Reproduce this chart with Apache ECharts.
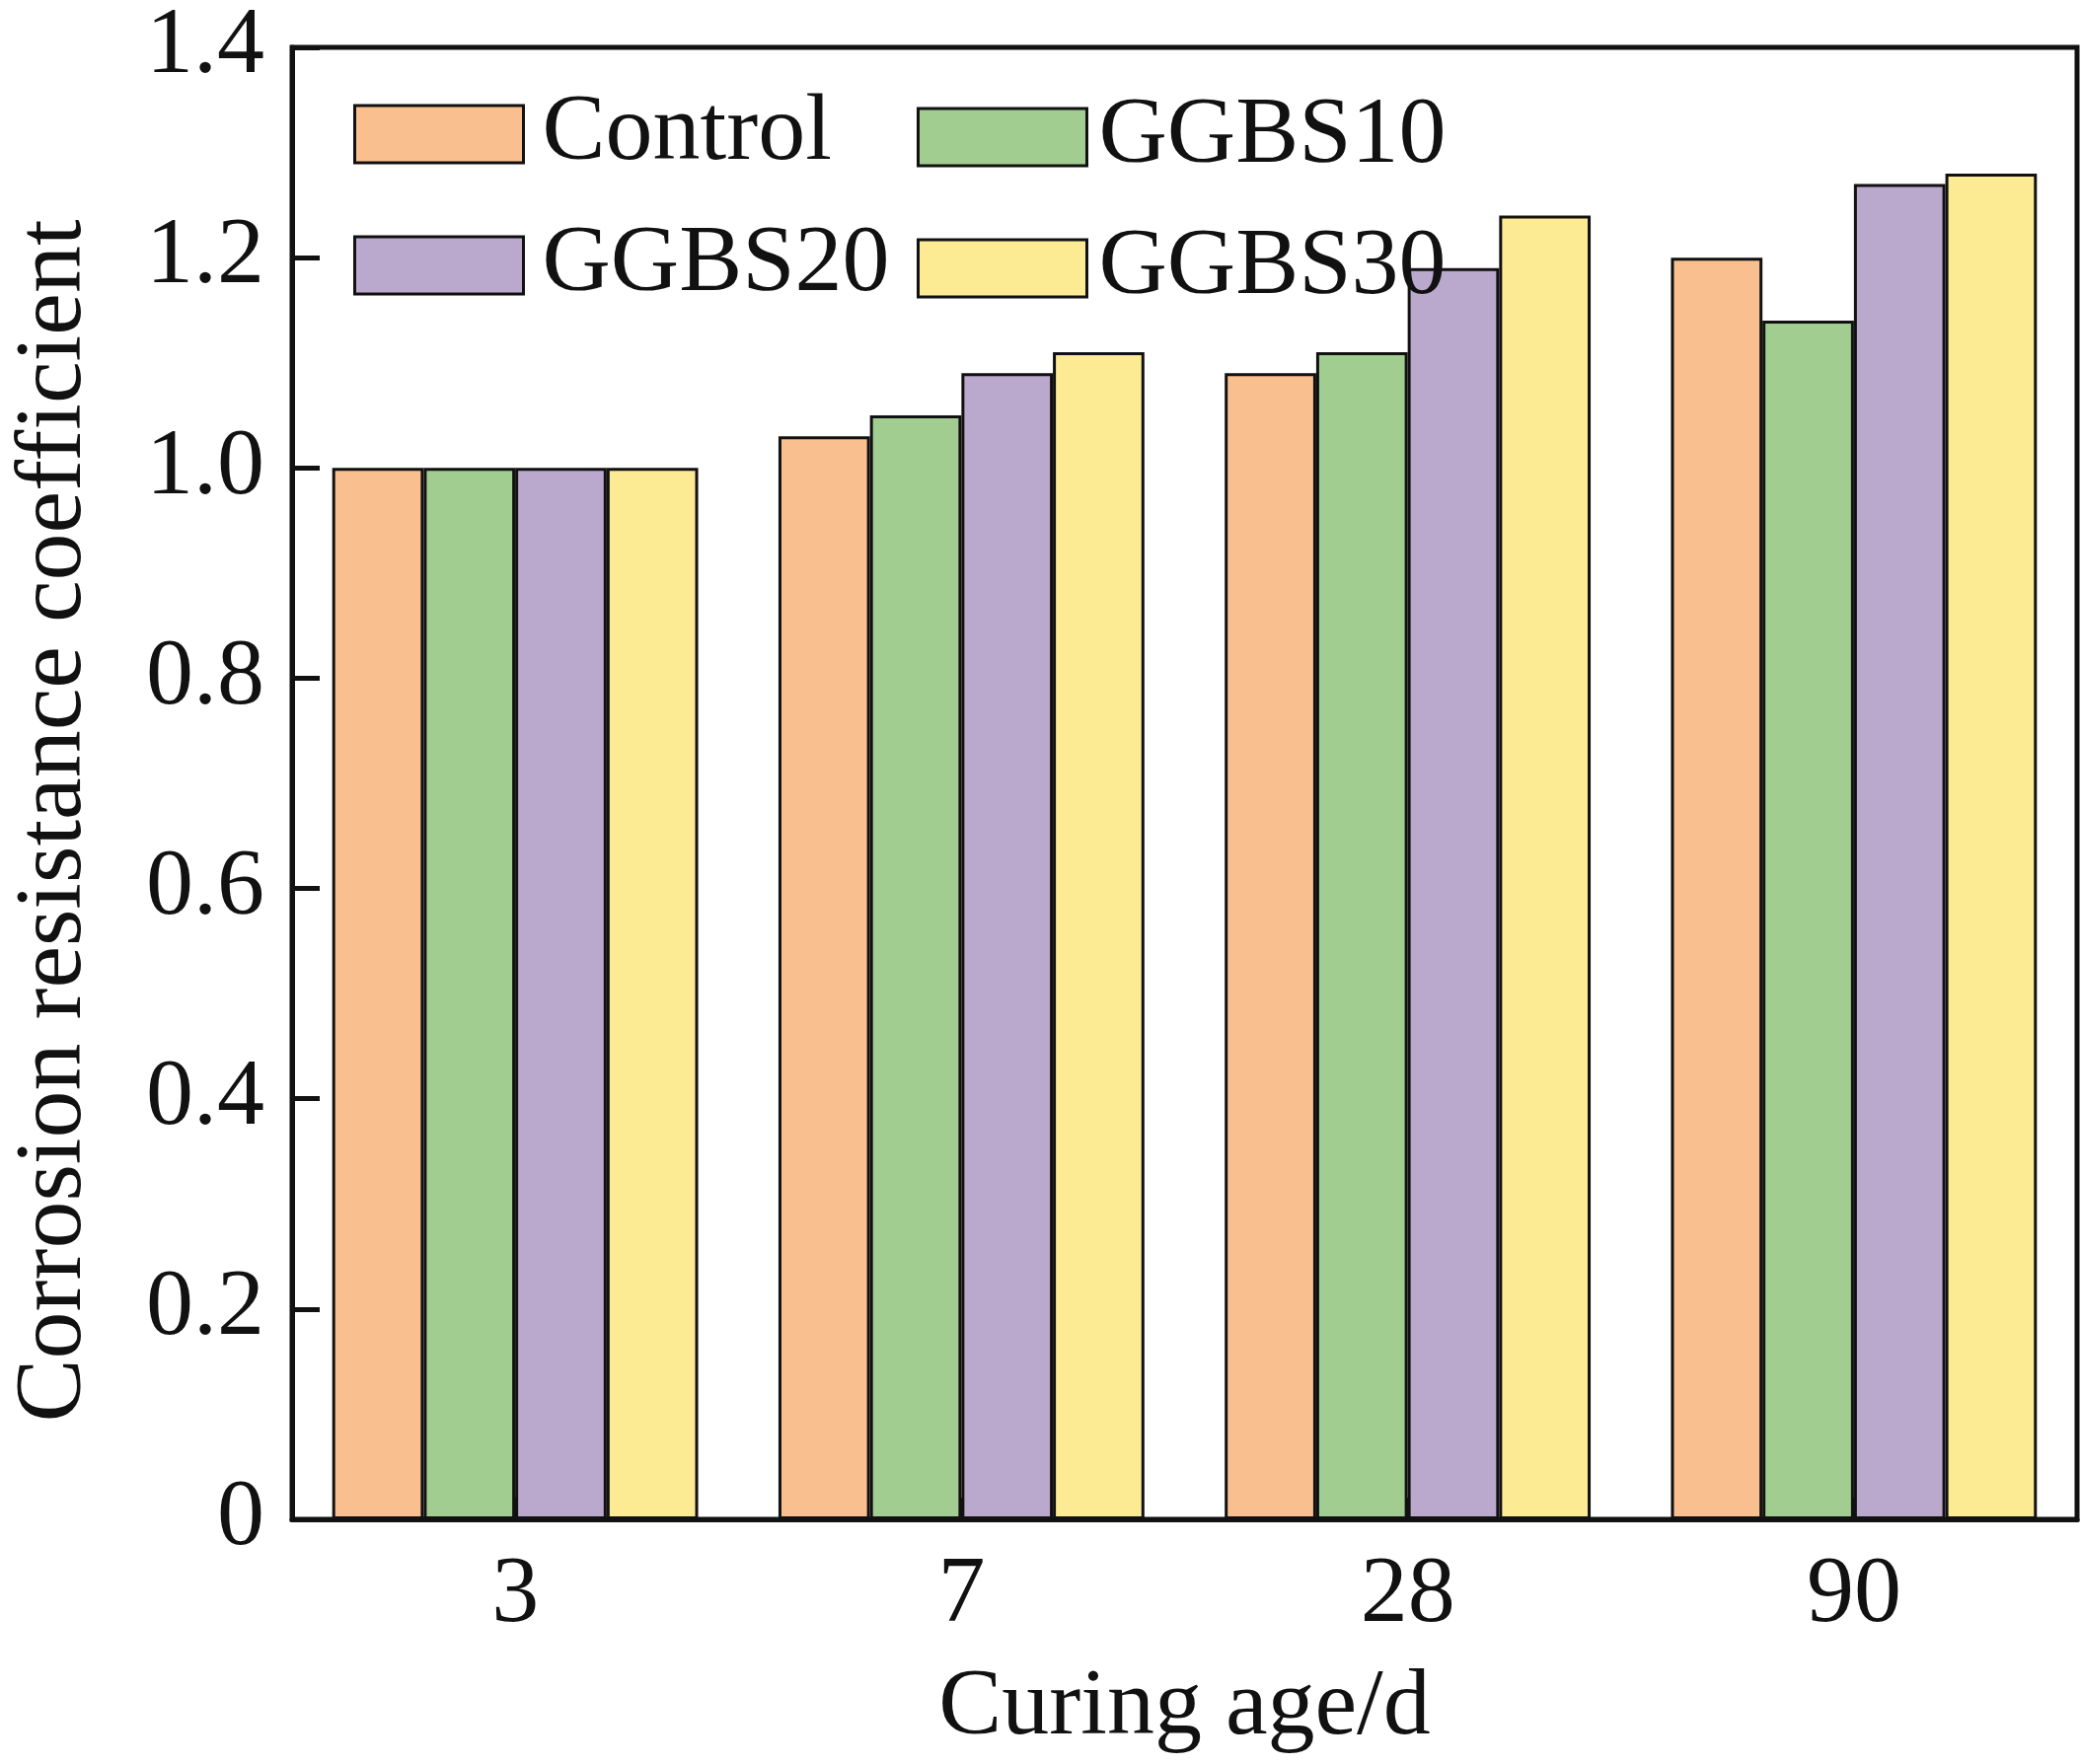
<!DOCTYPE html>
<html>
<head>
<meta charset="utf-8">
<script src="https://cdn.jsdelivr.net/npm/echarts@6/dist/echarts.min.js"></script>
<style>
html,body{margin:0;padding:0;background:#fff;}
#chart{width:2109px;height:1788px;}
</style>
</head>
<body>
<div id="chart"></div>
<script>
const categories = ['3', '7', '28', '90'];
const seriesNames = ['Control', 'GGBS10', 'GGBS20', 'GGBS30'];
const controlValues = [1.00, 1.03, 1.09, 1.20];
const ggbs10Values = [1.00, 1.05, 1.11, 1.14];
const ggbs20Values = [1.00, 1.09, 1.19, 1.27];
const ggbs30Values = [1.00, 1.11, 1.24, 1.28];
const colors = ['#F9BF8F', '#A2CD91', '#BBA8CD', '#FDEB94'];

const FONT = "'Liberation Serif', 'Times New Roman', serif";
const allValues = [controlValues, ggbs10Values, ggbs20Values, ggbs30Values];

const chart = echarts.init(document.getElementById('chart'));
const series = seriesNames.map((name, i) => ({
  name: name,
  type: 'bar',
  data: allValues[i],
  barGap: '0%',
  barCategoryGap: '18%',
  itemStyle: { color: colors[i], borderColor: '#111', borderWidth: 3 },
  emphasis: { disabled: true }
}));

const legendCommon = {
  orient: 'vertical',
  itemWidth: 171,
  itemHeight: 58,
  itemGap: 37,
  textStyle: { fontFamily: FONT, fontSize: 96, color: '#111' },
  itemStyle: { borderColor: '#111', borderWidth: 3 },
  icon: 'rect',
  selectedMode: false
};

chart.setOption({
  animation: false,
  backgroundColor: '#fff',
  grid: {
    left: 267, right: 4, top: 27, bottom: 248,
    show: true, borderColor: '#111', borderWidth: 5, backgroundColor: 'transparent'
  },
  legend: [
    Object.assign({}, legendCommon, {
      left: 353, top: 83, data: ['Control', 'GGBS20'],
      textStyle: Object.assign({}, legendCommon.textStyle, { padding: [0, 0, 0, 14] })
    }),
    Object.assign({}, legendCommon, {
      left: 924, top: 86, data: ['GGBS10', 'GGBS30'],
      textStyle: Object.assign({}, legendCommon.textStyle, { padding: [0, 0, 0, 7] })
    })
  ],
  xAxis: {
    type: 'category',
    data: categories,
    name: 'Curing age/d',
    nameLocation: 'middle',
    nameGap: 144,
    nameTextStyle: { fontFamily: FONT, fontSize: 96, color: '#111' },
    axisLine: { lineStyle: { color: '#111', width: 5 } },
    axisTick: { show: true, inside: true, alignWithLabel: true, length: 22, lineStyle: { color: '#111', width: 4 } },
    axisLabel: { fontFamily: FONT, fontSize: 96, color: '#111', margin: 30 }
  },
  yAxis: {
    type: 'value',
    min: 0, max: 1.4, interval: 0.2,
    name: 'Corrosion resistance coefficient',
    nameLocation: 'middle',
    nameGap: 192,
    nameTextStyle: { fontFamily: FONT, fontSize: 96, color: '#111', padding: [0, 76, 0, 0] },
    axisLine: { show: true, lineStyle: { color: '#111', width: 5 } },
    axisTick: { show: true, inside: true, length: 28, lineStyle: { color: '#111', width: 5 } },
    splitLine: { show: false },
    axisLabel: {
      fontFamily: FONT, fontSize: 96, color: '#111', margin: 28,
      formatter: v => (v === 0 ? '0' : v.toFixed(1))
    }
  },
  series: series
});
</script>
</body>
</html>
